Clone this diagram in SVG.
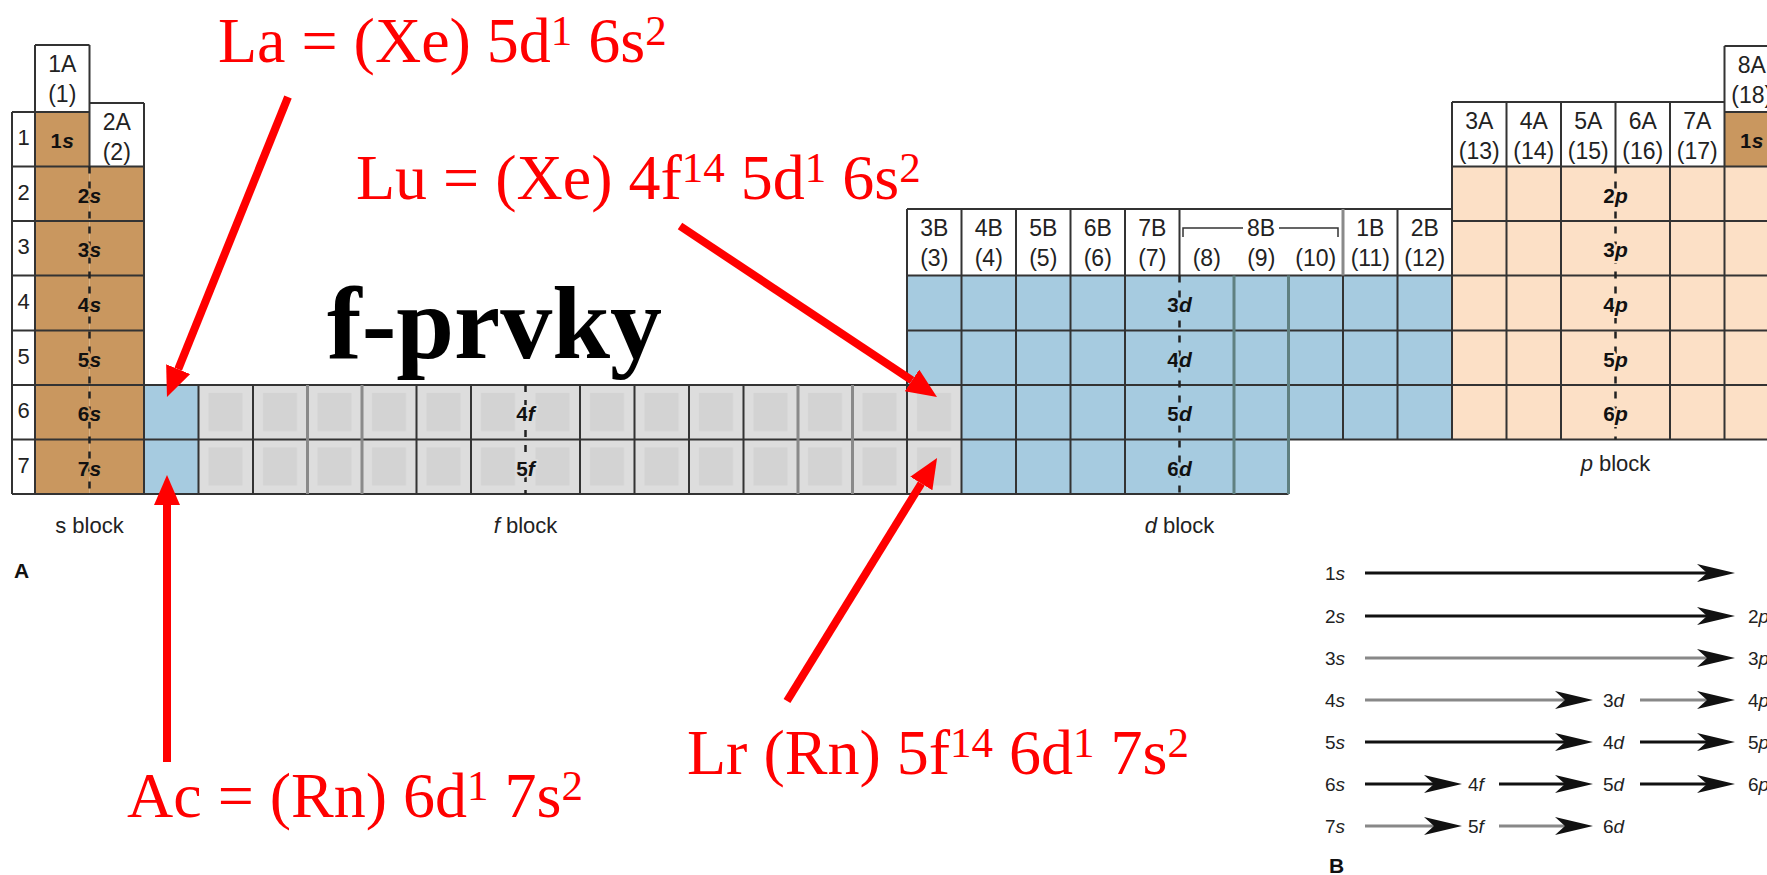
<svg xmlns="http://www.w3.org/2000/svg" width="1767" height="875" viewBox="0 0 1767 875">
<style>
.grid{fill:none;stroke:#333;stroke-width:2}
.gridg{fill:none;stroke:#8a8a8a;stroke-width:3}
.gridt{fill:none;stroke:#5f8080;stroke-width:3}
.dash{fill:none;stroke:#222;stroke-width:2.5;stroke-dasharray:7 8}
.hdr{font-family:"Liberation Sans",Arial,sans-serif;font-size:23px;fill:#222;text-anchor:middle}
.per{font-family:"Liberation Sans",Arial,sans-serif;font-size:22px;fill:#222;text-anchor:middle}
.orb{font-family:"Liberation Sans",Arial,sans-serif;font-size:21px;font-weight:bold;fill:#111;text-anchor:middle;stroke-width:4px;paint-order:stroke;stroke-linejoin:round}
.os{stroke:#C9975F}.od{stroke:#A6CBE0}.of{stroke:#DCDCDC}.op{stroke:#FCE0C6}
.blk{font-family:"Liberation Sans",Arial,sans-serif;font-size:22px;fill:#222;text-anchor:middle}
.red{font-family:"Liberation Serif","Times New Roman",serif;font-size:64px;fill:#FF0000}
.sup{font-size:43px}
.big{font-family:"Liberation Serif","Times New Roman",serif;font-size:104px;font-weight:bold;fill:#000}
.bt{font-family:"Liberation Sans",Arial,sans-serif;font-size:19px;fill:#222}
.lbl{font-family:"Liberation Sans",Arial,sans-serif;font-size:21px;font-weight:bold;fill:#111}
.ra{stroke:#FF0000;stroke-width:8;fill:none}
.bl{stroke:#111;stroke-width:3;fill:none}
.gl{stroke:#888;stroke-width:3;fill:none}
.s{fill:#C9975F}.d{fill:#A6CBE0}.p{fill:#FCE0C6}.w{fill:#fff}
</style>
<defs>
<marker id="redhead" markerUnits="userSpaceOnUse" markerWidth="32" markerHeight="28" refX="0" refY="13" orient="auto"><path d="M0,0 L30,13 L0,26 Z" fill="#FF0000"/></marker>
<marker id="bhead" markerUnits="userSpaceOnUse" markerWidth="40" markerHeight="20" refX="10" refY="9" orient="auto"><path d="M0,0 L38,9 L0,18 L10,9 Z" fill="#111"/></marker>
<pattern id="fcell" patternUnits="userSpaceOnUse" x="198.5" y="385" width="54.5" height="54.5">
<rect width="54.5" height="54.5" fill="#DDDDDD"/>
<rect x="10" y="8" width="34" height="38" fill="#D3D3D3"/>
</pattern>
</defs>
<rect width="1767" height="875" fill="#fff"/>

<g id="s-block">
<rect class="w" x="12" y="112" width="23" height="382"/>
<rect class="w" x="35" y="45" width="54.5" height="67"/>
<rect class="w" x="89.5" y="103" width="54.5" height="63.5"/>
<rect class="s" x="35" y="112" width="54.5" height="382"/>
<rect class="s" x="89.5" y="166.5" width="54.5" height="327.5"/>
</g>
<g id="f-block">
<rect class="d" x="144" y="385" width="54.5" height="109"/>
<rect fill="url(#fcell)" x="198.5" y="385" width="763" height="109"/>
</g>
<g id="d-block">
<rect class="w" x="907" y="209" width="545" height="66.5"/>
<rect class="d" x="907" y="275.5" width="545" height="109.5"/>
<rect class="d" x="961.5" y="385" width="490.5" height="54.5"/>
<rect class="d" x="961.5" y="439.5" width="327" height="54.5"/>
</g>
<g id="p-block">
<rect class="w" x="1452" y="102" width="272.5" height="64.5"/>
<rect class="w" x="1724.5" y="46" width="54.5" height="66"/>
<rect class="s" x="1724.5" y="112" width="54.5" height="54.5"/>
<rect class="p" x="1452" y="166.5" width="327" height="273"/>
</g>

<g id="grid">
<path class="grid" d="M35,45 H89.5 M89.5,103 H144 M1724.5,46 H1779 M907,209 H1452 M1452,102 H1724.5 M12,112 H89.5 M1724.5,112 H1779 M12,166.5 H144 M1452,166.5 H1779 M12,221 H144 M1452,221 H1779 M12,275.5 H144 M907,275.5 H1779 M12,330.5 H144 M907,330.5 H1779 M12,385 H1779 M12,439.5 H1779 M12,494 H1288.5
M12,112 V494 M35,45 V494 M89.5,45 V166.5 M144,103 V494
M198.5,385 V494 M253,385 V494 M416.5,385 V494 M471,385 V494 M580,385 V494 M634.5,385 V494 M689,385 V494 M743.5,385 V494
M907,209 V494 M961.5,209 V494 M1016,209 V494 M1070.5,209 V494 M1125,209 V494 M1179.5,209 V275.5
M1343,275.5 V439.5 M1397.5,209 V439.5 M1452,102 V439.5 M1506.5,102 V439.5 M1561,102 V439.5 M1615.5,102 V166.5 M1670,102 V439.5 M1724.5,46 V439.5"/>
<path class="gridg" d="M307.5,385 V494 M362,385 V494 M798,385 V494 M852.5,385 V494 M1343,209 V275.5"/>
<path class="gridt" d="M1234,275.5 V494 M1288.5,275.5 V494"/>
<path class="dash" d="M89.5,166.5 V494 M525.5,385 V494 M1179.5,275.5 V494 M1615.5,166.5 V439.5"/>
<path d="M1183,237 V228 H1243 M1279,228 H1338 V237" fill="none" stroke="#333" stroke-width="1.5"/>
</g>

<g id="headers">
<text class="hdr" x="62.25" y="72">1A</text><text class="hdr" x="62.25" y="102">(1)</text>
<text class="hdr" x="116.75" y="130">2A</text><text class="hdr" x="116.75" y="160">(2)</text>
<text class="hdr" x="934.25" y="236">3B</text><text class="hdr" x="934.25" y="266">(3)</text>
<text class="hdr" x="988.75" y="236">4B</text><text class="hdr" x="988.75" y="266">(4)</text>
<text class="hdr" x="1043.25" y="236">5B</text><text class="hdr" x="1043.25" y="266">(5)</text>
<text class="hdr" x="1097.75" y="236">6B</text><text class="hdr" x="1097.75" y="266">(6)</text>
<text class="hdr" x="1152.25" y="236">7B</text><text class="hdr" x="1152.25" y="266">(7)</text>
<text class="hdr" x="1261" y="236">8B</text>
<text class="hdr" x="1206.75" y="266">(8)</text><text class="hdr" x="1261.25" y="266">(9)</text><text class="hdr" x="1315.75" y="266">(10)</text>
<text class="hdr" x="1370.25" y="236">1B</text><text class="hdr" x="1370.25" y="266">(11)</text>
<text class="hdr" x="1424.75" y="236">2B</text><text class="hdr" x="1424.75" y="266">(12)</text>
<text class="hdr" x="1479.25" y="129">3A</text><text class="hdr" x="1479.25" y="159">(13)</text>
<text class="hdr" x="1533.75" y="129">4A</text><text class="hdr" x="1533.75" y="159">(14)</text>
<text class="hdr" x="1588.25" y="129">5A</text><text class="hdr" x="1588.25" y="159">(15)</text>
<text class="hdr" x="1642.75" y="129">6A</text><text class="hdr" x="1642.75" y="159">(16)</text>
<text class="hdr" x="1697.25" y="129">7A</text><text class="hdr" x="1697.25" y="159">(17)</text>
<text class="hdr" x="1751.75" y="73">8A</text><text class="hdr" x="1751.75" y="103">(18)</text>
<text class="per" x="23.5" y="145">1</text><text class="per" x="23.5" y="199.5">2</text><text class="per" x="23.5" y="254">3</text><text class="per" x="23.5" y="308.5">4</text><text class="per" x="23.5" y="363.5">5</text><text class="per" x="23.5" y="418">6</text><text class="per" x="23.5" y="472.5">7</text>
</g>

<g id="orbital-labels">
<text class="orb os" x="62.25" y="148">1<tspan font-style="italic">s</tspan></text>
<text class="orb os" x="89.5" y="202.5">2<tspan font-style="italic">s</tspan></text>
<text class="orb os" x="89.5" y="257">3<tspan font-style="italic">s</tspan></text>
<text class="orb os" x="89.5" y="311.5">4<tspan font-style="italic">s</tspan></text>
<text class="orb os" x="89.5" y="366.5">5<tspan font-style="italic">s</tspan></text>
<text class="orb os" x="89.5" y="421">6<tspan font-style="italic">s</tspan></text>
<text class="orb os" x="89.5" y="475.5">7<tspan font-style="italic">s</tspan></text>
<text class="orb os" x="1751.75" y="148">1<tspan font-style="italic">s</tspan></text>
<text class="orb of" x="525.5" y="421">4<tspan font-style="italic">f</tspan></text>
<text class="orb of" x="525.5" y="475.5">5<tspan font-style="italic">f</tspan></text>
<text class="orb od" x="1179.5" y="311.5">3<tspan font-style="italic">d</tspan></text>
<text class="orb od" x="1179.5" y="366.5">4<tspan font-style="italic">d</tspan></text>
<text class="orb od" x="1179.5" y="421">5<tspan font-style="italic">d</tspan></text>
<text class="orb od" x="1179.5" y="475.5">6<tspan font-style="italic">d</tspan></text>
<text class="orb op" x="1615.5" y="202.5">2<tspan font-style="italic">p</tspan></text>
<text class="orb op" x="1615.5" y="257">3<tspan font-style="italic">p</tspan></text>
<text class="orb op" x="1615.5" y="311.5">4<tspan font-style="italic">p</tspan></text>
<text class="orb op" x="1615.5" y="366.5">5<tspan font-style="italic">p</tspan></text>
<text class="orb op" x="1615.5" y="421">6<tspan font-style="italic">p</tspan></text>
</g>

<g id="block-labels">
<text class="blk" x="89.5" y="533">s block</text>
<text class="blk" x="525.5" y="533"><tspan font-style="italic">f</tspan> block</text>
<text class="blk" x="1179.5" y="533"><tspan font-style="italic">d</tspan> block</text>
<text class="blk" x="1615.5" y="471"><tspan font-style="italic">p</tspan> block</text>
<text class="lbl" x="14" y="578">A</text>
<text class="lbl" x="1329" y="873">B</text>
</g>

<g id="panel-b">
<text class="bt" x="1325" y="580">1<tspan font-style="italic">s</tspan></text>
<text class="bt" x="1325" y="623">2<tspan font-style="italic">s</tspan></text>
<text class="bt" x="1325" y="665">3<tspan font-style="italic">s</tspan></text>
<text class="bt" x="1325" y="707">4<tspan font-style="italic">s</tspan></text>
<text class="bt" x="1325" y="749">5<tspan font-style="italic">s</tspan></text>
<text class="bt" x="1325" y="791">6<tspan font-style="italic">s</tspan></text>
<text class="bt" x="1325" y="833">7<tspan font-style="italic">s</tspan></text>
<text class="bt" x="1748" y="623">2<tspan font-style="italic">p</tspan></text>
<text class="bt" x="1748" y="665">3<tspan font-style="italic">p</tspan></text>
<text class="bt" x="1748" y="707">4<tspan font-style="italic">p</tspan></text>
<text class="bt" x="1748" y="749">5<tspan font-style="italic">p</tspan></text>
<text class="bt" x="1748" y="791">6<tspan font-style="italic">p</tspan></text>
<text class="bt" x="1603" y="707">3<tspan font-style="italic">d</tspan></text>
<text class="bt" x="1603" y="749">4<tspan font-style="italic">d</tspan></text>
<text class="bt" x="1603" y="791">5<tspan font-style="italic">d</tspan></text>
<text class="bt" x="1603" y="833">6<tspan font-style="italic">d</tspan></text>
<text class="bt" x="1468" y="791">4<tspan font-style="italic">f</tspan></text>
<text class="bt" x="1468" y="833">5<tspan font-style="italic">f</tspan></text>
</g>

<g id="annotations">
<text class="big" x="327" y="358">f-prvky</text>
<text class="red" x="218" y="62">La = (Xe) 5d<tspan class="sup" dy="-17">1</tspan><tspan dy="17"> 6s</tspan><tspan class="sup" dy="-17">2</tspan></text>
<text class="red" x="356" y="199">Lu = (Xe) 4f<tspan class="sup" dy="-17">14</tspan><tspan dy="17"> 5d</tspan><tspan class="sup" dy="-17">1</tspan><tspan dy="17"> 6s</tspan><tspan class="sup" dy="-17">2</tspan></text>
<text class="red" x="127" y="817">Ac = (Rn) 6d<tspan class="sup" dy="-17">1</tspan><tspan dy="17"> 7s</tspan><tspan class="sup" dy="-17">2</tspan></text>
<text class="red" x="687" y="774">Lr (Rn) 5f<tspan class="sup" dy="-17">14</tspan><tspan dy="17"> 6d</tspan><tspan class="sup" dy="-17">1</tspan><tspan dy="17"> 7s</tspan><tspan class="sup" dy="-17">2</tspan></text>
</g>

<g id="connectors">
<path class="ra" d="M288,97 L178.2,369.2" marker-end="url(#redhead)"/>
<path class="ra" d="M680,226 L912,380.4" marker-end="url(#redhead)"/>
<path class="ra" d="M167,762 L167,505" marker-end="url(#redhead)"/>
<path class="ra" d="M787,701 L921.3,483.5" marker-end="url(#redhead)"/>
<path class="bl" d="M1365,573 H1707" marker-end="url(#bhead)"/>
<path class="bl" d="M1365,616 H1707" marker-end="url(#bhead)"/>
<path class="gl" d="M1365,658 H1707" marker-end="url(#bhead)"/>
<path class="gl" d="M1365,700 H1565" marker-end="url(#bhead)"/>
<path class="gl" d="M1640,700 H1707" marker-end="url(#bhead)"/>
<path class="bl" d="M1365,742 H1565" marker-end="url(#bhead)"/>
<path class="bl" d="M1640,742 H1707" marker-end="url(#bhead)"/>
<path class="bl" d="M1365,784 H1434" marker-end="url(#bhead)"/>
<path class="bl" d="M1499,784 H1565" marker-end="url(#bhead)"/>
<path class="bl" d="M1640,784 H1707" marker-end="url(#bhead)"/>
<path class="gl" d="M1365,826 H1434" marker-end="url(#bhead)"/>
<path class="gl" d="M1499,826 H1565" marker-end="url(#bhead)"/>
</g>
</svg>
